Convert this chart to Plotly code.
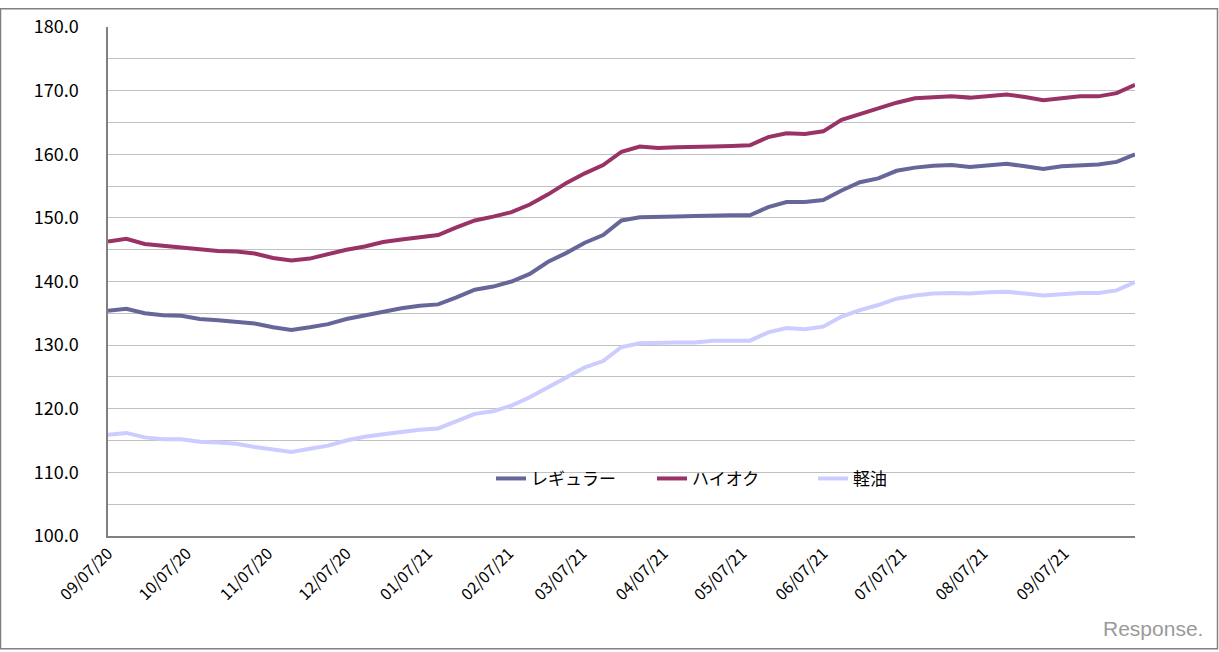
import plotly.graph_objects as go
import pandas as pd

# Weekly survey dates (Mondays) from 2020-09-07 to 2021-10-04
dates = pd.date_range("2020-09-07", "2021-10-04", freq="7D")

regular = [135.4, 135.7, 135.0, 134.7, 134.6, 134.1, 133.9, 133.7, 133.4, 132.8,
           132.4, 132.8, 133.3, 134.1, 134.7, 135.3, 135.8, 136.2, 136.4, 137.5,
           138.7, 139.2, 140.0, 141.2, 143.1, 144.5, 146.1, 147.3, 149.6, 150.1,
           150.1, 150.2, 150.3, 150.4, 150.4, 150.4, 151.7, 152.5, 152.5, 152.8,
           154.3, 155.6, 156.2, 157.4, 157.9, 158.2, 158.3, 158.0, 158.3, 158.5,
           158.1, 157.7, 158.1, 158.3, 158.4, 158.8, 160.0]

high_octane = [146.3, 146.7, 145.9, 145.6, 145.4, 145.0, 144.8, 144.7, 144.4, 143.7,
               143.3, 143.6, 144.3, 145.0, 145.5, 146.2, 146.6, 147.0, 147.3, 148.5,
               149.6, 150.2, 150.9, 152.1, 153.7, 155.5, 157.0, 158.3, 160.4, 161.2,
               161.0, 161.1, 161.1, 161.2, 161.3, 161.4, 162.7, 163.3, 163.2, 163.6,
               165.4, 166.3, 167.1, 168.1, 168.8, 169.0, 169.1, 168.9, 169.2, 169.4,
               169.0, 168.5, 168.8, 169.1, 169.1, 169.6, 170.9]

diesel = [115.9, 116.2, 115.5, 115.2, 115.2, 114.8, 114.7, 114.5, 114.0, 113.6,
          113.2, 113.7, 114.2, 115.0, 115.6, 116.0, 116.4, 116.7, 116.9, 118.0,
          119.2, 119.6, 120.5, 121.8, 123.4, 124.9, 126.5, 127.5, 129.7, 130.3,
          130.4, 130.4, 130.4, 130.7, 130.7, 130.7, 132.0, 132.7, 132.5, 132.9,
          134.5, 135.5, 136.3, 137.3, 137.8, 138.1, 138.2, 138.1, 138.3, 138.4,
          138.1, 137.8, 138.0, 138.2, 138.2, 138.6, 139.9]

series_names = ["レギュラー", "ハイオク", "軽油"]
series_colors = ["#666699", "#993366", "#CCCCFF"]

x_tick_dates = ["2020-09-07", "2020-10-07", "2020-11-07", "2020-12-07", "2021-01-07",
                "2021-02-07", "2021-03-07", "2021-04-07", "2021-05-07", "2021-06-07",
                "2021-07-07", "2021-08-07", "2021-09-07"]
x_tick_labels = ["09/07/20", "10/07/20", "11/07/20", "12/07/20", "01/07/21",
                 "02/07/21", "03/07/21", "04/07/21", "05/07/21", "06/07/21",
                 "07/07/21", "08/07/21", "09/07/21"]
y_tick_vals = [100, 110, 120, 130, 140, 150, 160, 170, 180]
y_tick_labels = [f"{v:.1f}" for v in y_tick_vals]

FONT = "Noto Sans CJK JP"
W, H = 1219, 652
L, R, T, B = 108, 84, 19, 116
PW, PH = W - L - R, H - T - B

fig = go.Figure()
for name, vals, col in zip(series_names, [regular, high_octane, diesel], series_colors):
    fig.add_trace(go.Scatter(x=dates, y=vals, mode="lines", name=name,
                             line=dict(color=col, width=4)))

# outer frame around the whole picture
fig.add_shape(type="rect", xref="paper", yref="paper",
              x0=(0.5 - L) / PW, x1=(W - 1.5 - L) / PW,
              y0=(T + PH - (H - 1.5)) / PH,
              y1=(T + PH - 0.5) / PH,
              line=dict(color="#808080", width=1.5), fillcolor="rgba(0,0,0,0)")

fig.add_annotation(text="Response.", xref="paper", yref="paper",
                   x=(1205 - L) / PW, y=(T + PH - 630) / PH,
                   xanchor="right", yanchor="middle", showarrow=False,
                   font=dict(family="Liberation Sans", size=21, color="#9a9a9a"))

fig.update_layout(
    width=W, height=H,
    margin=dict(l=L, r=R, t=T, b=B, pad=0),
    paper_bgcolor="white", plot_bgcolor="white",
    font=dict(family=FONT, color="black"),
    showlegend=True,
    legend=dict(orientation="h", x=(491 - L) / PW, xanchor="left",
                y=(T + PH - 478) / PH, yanchor="middle",
                bgcolor="rgba(0,0,0,0)", font=dict(size=17, family=FONT),
                itemwidth=30, entrywidth=116, entrywidthmode="pixels"),
    xaxis=dict(type="date", range=[dates[0], dates[-1]],
               tickmode="array", tickvals=x_tick_dates, ticktext=x_tick_labels,
               tickangle=-45, tickfont=dict(size=16, family=FONT),
               showgrid=False, showline=True, linecolor="#808080", linewidth=1.5,
               ticks="", zeroline=False),
    yaxis=dict(range=[100, 180], tickmode="array", tickvals=y_tick_vals,
               ticktext=y_tick_labels, tickfont=dict(size=18, family=FONT),
               showgrid=True, gridcolor="#C0C0C0", gridwidth=1,
               minor=dict(dtick=5, showgrid=True, gridcolor="#C0C0C0", gridwidth=1),
               showline=True, linecolor="#808080", linewidth=1.5,
               ticks="", ticklabelstandoff=24, zeroline=False),
)

fig.write_html("out.html")
